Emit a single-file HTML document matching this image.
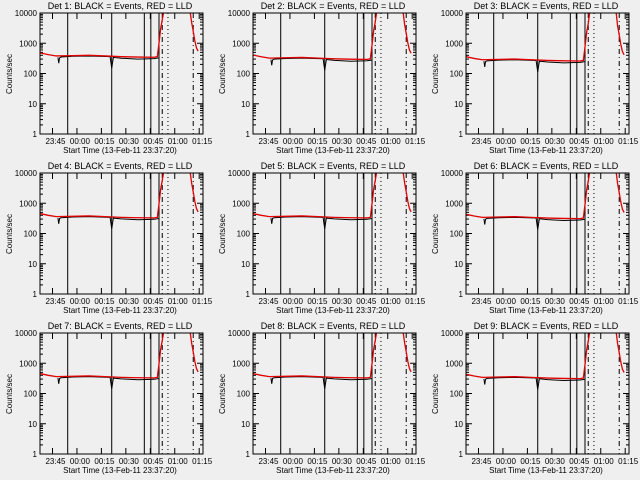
<!DOCTYPE html>
<html><head><meta charset="utf-8"><style>
html,body{margin:0;padding:0;background:#efefef;}
svg{display:block;font-family:"Liberation Sans",sans-serif;}
</style></head><body>
<svg id="c" width="640" height="480"></svg>
<script>
// Shared time-axis data (minutes after 23:37:20)
const tickLabels = ["23:45","00:00","00:15","00:30","00:45","01:00","01:15"];
const tickMinutes = [7.67,22.67,37.67,52.67,67.67,82.67,97.67];
const yTicks = [1,10,100,1000,10000];
const yTickLabels = ["1","10","100","1000","10000"];
const redTimes = [0,5,10,20,30,40,50,60,70,72,73,74,75,76,92,93,94,95,96,97];
const redVals = [480,420,380,390,400,380,360,350,345,360,1000,3000,6000,10000,10000,5000,2500,1200,700,550];
const blackTimes = [11,11.5,12,13,20,30,43,44,45,50,60,70,73];
const blackVals = [340,220,330,350,370,380,360,150,340,320,300,310,330];
const panelScale = [1.0,0.85,0.75,0.95,0.95,0.9,0.95,0.95,0.9];
const solidLines = [17,44,64,68,73];
const dottedLines = [78.5];
const dashLines = [75,94];

const svg = document.getElementById('c');
const NS = 'http://www.w3.org/2000/svg';
function mk(t, a, p){const e=document.createElementNS(NS,t);for(const k in a)e.setAttribute(k,a[k]);p.appendChild(e);return e;}

for(let p=0;p<9;p++){
  const ox=(p%3)*213, oy=Math.floor(p/3)*160;
  const L=ox+40,R=ox+203,T=oy+13,B=oy+134;
  const xs=m=>L+m*(R-L)/100;
  const ys=v=>B-(Math.log10(v))*(B-T)/4;
  const g=mk('g',{},svg);
  
  
  const cid='clip'+p;
  const cp=mk('clipPath',{id:cid},g);mk('rect',{x:L,y:T,width:R-L,height:B-T},cp);
  const title=mk('text',{x:ox+120,y:oy+9,'font-size':9,'text-anchor':'middle',fill:'#000'},g);
  title.textContent='Det '+(p+1)+': BLACK = Events, RED = LLD';
  
  
  const yl=mk('text',{x:ox+12,y:oy+74,'font-size':8,'text-anchor':'middle',fill:'#000',transform:`rotate(-90 ${ox+12} ${oy+74})`},g);
  yl.textContent='Counts/sec';
  
  
  const xl=mk('text',{x:ox+120,y:oy+153,'font-size':8,'text-anchor':'middle',fill:'#000'},g);
  xl.textContent='Start Time (13-Feb-11 23:37:20)';
  
  
  yTicks.forEach((v,i)=>{
    const t=mk('text',{x:L-3,y:ys(v)+3,'font-size':8,'text-anchor':'end',fill:'#000'},g);
    t.textContent=yTickLabels[i];
    
    
    mk('line',{x1:L,x2:L+6,y1:ys(v),y2:ys(v),stroke:'#000'},g);
    mk('line',{x1:R,x2:R-6,y1:ys(v),y2:ys(v),stroke:'#000'},g);
    if(i<4)for(let k=2;k<10;k++){const yy=ys(v*k);mk('line',{x1:L,x2:L+3,y1:yy,y2:yy,stroke:'#000'},g);mk('line',{x1:R,x2:R-3,y1:yy,y2:yy,stroke:'#000'},g);}
  });
  tickMinutes.forEach((m,i)=>{
    const t=mk('text',{x:xs(m)+3,y:oy+144,'font-size':8,'text-anchor':'middle',fill:'#000'},g);
    t.textContent=tickLabels[i];
    
    
    if(xs(m)<R){mk('line',{x1:xs(m),x2:xs(m),y1:B,y2:B-6,stroke:'#000'},g);mk('line',{x1:xs(m),x2:xs(m),y1:T,y2:T+6,stroke:'#000'},g);}
  });
  const cg=mk('g',{'clip-path':`url(#${cid})`},g);
  solidLines.forEach(m=>mk('line',{x1:xs(m),x2:xs(m),y1:T,y2:B,stroke:'#000','stroke-width':1},cg));
  dottedLines.forEach(m=>mk('line',{x1:xs(m),x2:xs(m),y1:T,y2:B,stroke:'#000','stroke-dasharray':'1,3'},cg));
  dashLines.forEach(m=>mk('line',{x1:xs(m),x2:xs(m),y1:T,y2:B,stroke:'#000','stroke-dasharray':'5,3,1,3'},cg));
  const sc=panelScale[p];
  const bp=blackTimes.map((m,i)=>xs(m)+','+ys(blackVals[i]*sc)).join(' ');
  const bl=mk('polyline',{points:bp,fill:'none',stroke:'#000','stroke-width':1},cg);
  
  
  const rp=redTimes.map((m,i)=>xs(m)+','+ys(redVals[i]>=10000?redVals[i]*1.2:redVals[i]*sc)).join(' ');
  const rl=mk('polyline',{points:rp,fill:'none',stroke:'#e00000','stroke-width':1.3},cg);
  
  
  mk('rect',{x:L,y:T,width:R-L,height:B-T,fill:'none',stroke:'#000'},g);
}
</script>
</body></html>
